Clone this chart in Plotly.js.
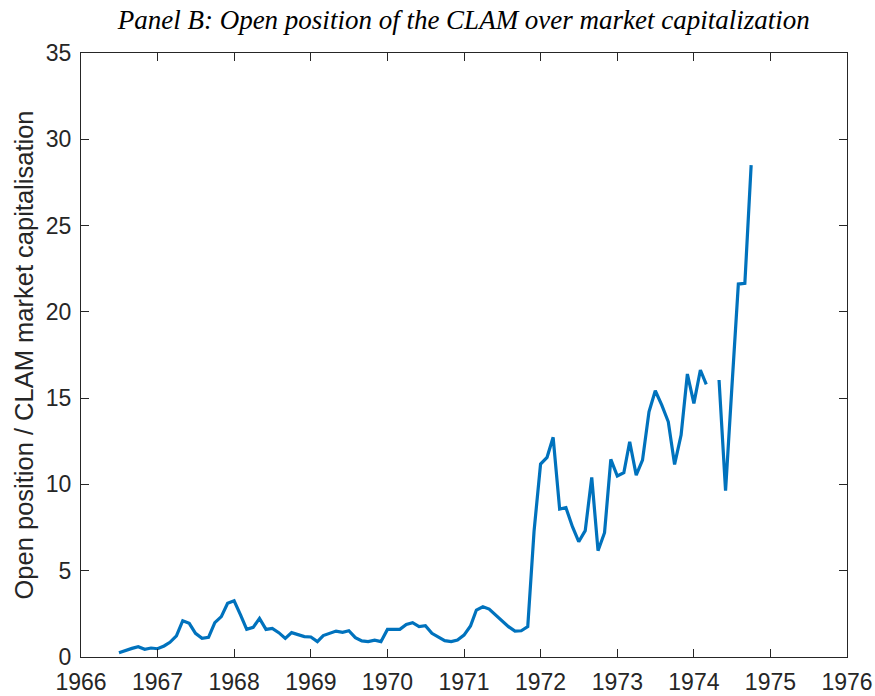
<!DOCTYPE html>
<html>
<head>
<meta charset="utf-8">
<script src="https://cdn.plot.ly/plotly-3.0.1.min.js"></script>
<style>html,body{margin:0;padding:0;background:#fff;}#chart{width:875px;height:696px;}</style>
</head>
<body>
<div id="chart"></div>
<script>
const months = [
  "1966-07","1966-08","1966-09","1966-10","1966-11","1966-12",
  "1967-01","1967-02","1967-03","1967-04","1967-05","1967-06","1967-07","1967-08","1967-09","1967-10","1967-11","1967-12",
  "1968-01","1968-02","1968-03","1968-04","1968-05","1968-06","1968-07","1968-08","1968-09","1968-10","1968-11","1968-12",
  "1969-01","1969-02","1969-03","1969-04","1969-05","1969-06","1969-07","1969-08","1969-09","1969-10","1969-11","1969-12",
  "1970-01","1970-02","1970-03","1970-04","1970-05","1970-06","1970-07","1970-08","1970-09","1970-10","1970-11","1970-12",
  "1971-01","1971-02","1971-03","1971-04","1971-05","1971-06","1971-07","1971-08","1971-09","1971-10","1971-11","1971-12",
  "1972-01","1972-02","1972-03","1972-04","1972-05","1972-06","1972-07","1972-08","1972-09","1972-10","1972-11","1972-12",
  "1973-01","1973-02","1973-03","1973-04","1973-05","1973-06","1973-07","1973-08","1973-09","1973-10","1973-11","1973-12",
  "1974-01","1974-02","1974-03","1974-04","1974-05","1974-06","1974-07","1974-08","1974-09","1974-10"
];
const openPositionRatio = [
  0.25,0.40,0.50,0.60,0.45,0.52,
  0.48,0.64,0.85,1.22,2.10,1.95,1.37,1.08,1.14,1.99,2.34,3.11,
  3.26,2.43,1.60,1.72,2.24,1.60,1.66,1.41,1.08,1.41,1.31,1.18,
  1.16,0.89,1.24,1.37,1.50,1.43,1.52,1.12,0.93,0.89,0.98,0.89,
  1.60,1.60,1.60,1.89,1.99,1.76,1.81,1.37,1.18,0.95,0.89,0.98,
  1.27,1.80,2.72,2.91,2.78,2.43,2.10,1.76,1.50,1.52,1.76,7.30,
  11.18,11.57,12.73,8.57,8.65,7.55,6.68,7.32,10.41,6.16,7.20,11.45,
  10.49,10.68,12.47,10.54,11.41,14.21,15.43,14.60,13.63,11.16,12.86,16.40,
  14.70,16.63,15.80,null,16.05,9.64,15.60,21.61,21.65,28.50
];
const xTickVals = ["1966-01-01","1967-01-01","1968-01-01","1969-01-01","1970-01-01","1971-01-01","1972-01-01","1973-01-01","1974-01-01","1975-01-01","1976-01-01"];
const xTickText = ["1966","1967","1968","1969","1970","1971","1972","1973","1974","1975","1976"];
const yTickVals = [0,5,10,15,20,25,30,35];
const titleText = "Panel B: Open position of the CLAM over market capitalization";
const yTitleText = "Open position / CLAM market capitalisation";

const axisColor = "#262626";
const tickFont = {family: "Liberation Sans, Arial, sans-serif", size: 23, color: axisColor};

Plotly.newPlot("chart", [{
  x: months,
  y: openPositionRatio,
  type: "scatter",
  mode: "lines",
  connectgaps: false,
  line: {color: "#0072BD", width: 3.2}
}], {
  width: 875, height: 696,
  margin: {l: 81, r: 28, t: 53, b: 39},
  paper_bgcolor: "#fff", plot_bgcolor: "#fff",
  showlegend: false,
  title: {
    text: titleText,
    font: {family: "Liberation Serif, serif", size: 27, color: "#000", style: "italic"},
    x: 0.53, xanchor: "center", y: 0.986, yanchor: "top"
  },
  xaxis: {
    type: "date",
    range: ["1966-01-01", "1976-01-01"],
    tickmode: "array",
    tickvals: xTickVals,
    ticktext: xTickText,
    ticks: "inside", ticklen: 8, tickwidth: 1, tickcolor: axisColor,
    ticklabelstandoff: 4,
    showline: true, linecolor: axisColor, linewidth: 1, mirror: "allticks",
    showgrid: false, zeroline: false,
    tickfont: tickFont
  },
  yaxis: {
    range: [0, 35],
    tickvals: yTickVals,
    ticks: "inside", ticklen: 8, tickwidth: 1, tickcolor: axisColor,
    ticklabelstandoff: 4,
    showline: true, linecolor: axisColor, linewidth: 1, mirror: "allticks",
    showgrid: false, zeroline: false,
    tickfont: tickFont,
    title: {text: yTitleText, font: {family: "Liberation Sans, Arial, sans-serif", size: 25.5, color: axisColor}, standoff: 4}
  }
}, {displayModeBar: false, staticPlot: true});
</script>
</body>
</html>
